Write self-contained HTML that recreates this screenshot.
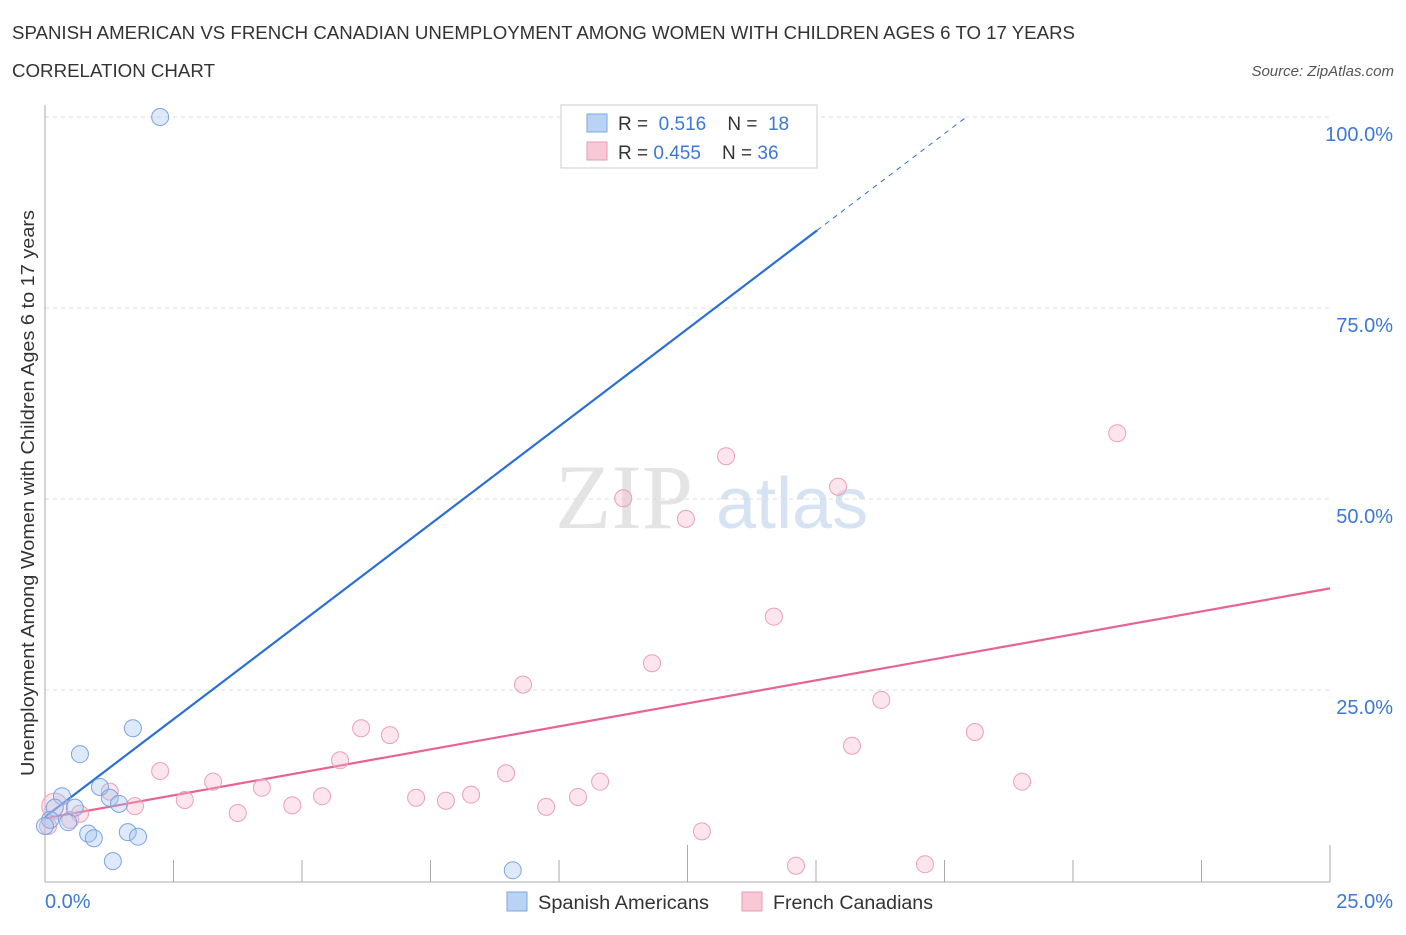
<!DOCTYPE html>
<html><head><meta charset="utf-8"><style>
body{margin:0;background:#fff;font-family:"Liberation Sans",sans-serif;}
</style></head><body>
<svg id="chart" width="1406" height="930" xmlns="http://www.w3.org/2000/svg" font-family="Liberation Sans, sans-serif">
<text x="12" y="39" font-size="18" fill="#333" textLength="1063" lengthAdjust="spacingAndGlyphs">SPANISH AMERICAN VS FRENCH CANADIAN UNEMPLOYMENT AMONG WOMEN WITH CHILDREN AGES 6 TO 17 YEARS</text>
<text x="12" y="77" font-size="18" fill="#333" textLength="203" lengthAdjust="spacingAndGlyphs">CORRELATION CHART</text>
<text x="1394" y="76" font-size="15" fill="#555" font-style="italic" text-anchor="end">Source: ZipAtlas.com</text>
<text x="555" y="528" font-size="92" fill="#e4e4e4" font-family="Liberation Serif, serif">ZIP</text>
<text x="716" y="528" font-size="72" fill="#d6e3f3">atlas</text>
<text transform="translate(34,493) rotate(-90)" font-size="18" fill="#333" text-anchor="middle" textLength="566" lengthAdjust="spacingAndGlyphs">Unemployment Among Women with Children Ages 6 to 17 years</text>
<g id="grid"></g><g id="axes"></g><g id="lines"></g><g id="pts"></g>
<g>
<rect x="561" y="105" width="256" height="63" fill="#fff" stroke="#ccc"/>
<rect x="587" y="114" width="20" height="18" fill="#b9d3f5" stroke="#7ea7e0"/>
<text x="618" y="130" font-size="19" fill="#333">R = <tspan fill="#3b78d8">&#160;0.516</tspan>&#160;&#160;&#160; N = <tspan fill="#3b78d8">&#160;18</tspan></text>
<rect x="587" y="142" width="20" height="18" fill="#f8c8d6" stroke="#eb9ab3"/>
<text x="618" y="159" font-size="19" fill="#333">R = <tspan fill="#3b78d8">0.455</tspan>&#160;&#160;&#160; N = <tspan fill="#3b78d8">36</tspan></text>
</g>
<g>
<rect x="507" y="892" width="20" height="19" fill="#b9d3f5" stroke="#7ea7e0"/>
<text x="538" y="909" font-size="19" fill="#333" textLength="171" lengthAdjust="spacingAndGlyphs">Spanish Americans</text>
<rect x="742" y="892" width="20" height="19" fill="#f8c8d6" stroke="#eb9ab3"/>
<text x="773" y="909" font-size="19" fill="#333" textLength="160" lengthAdjust="spacingAndGlyphs">French Canadians</text>
</g>
</svg>
<script>
const blueX=[2.24,1.71,0.68,0.33,1.07,1.26,1.44,0.19,0.10,0.45,0.84,0.95,1.61,1.81,1.32,9.10,0.0,0.58];
const blueY=[100,20.0,16.6,11.1,12.3,10.9,10.1,9.6,8.0,7.7,6.2,5.6,6.4,5.8,2.6,1.4,7.2,9.6];
const pinkX=[0.19,0.06,0.49,0.68,1.26,1.75,2.24,2.72,3.27,3.75,4.22,4.81,5.39,5.74,6.15,6.71,7.22,7.80,8.29,8.97,9.30,9.75,10.37,10.80,11.25,11.81,12.47,12.78,13.25,14.18,14.61,15.43,15.70,16.27,17.12,18.09,19.01,20.86];
const pinkY=[9.8,7.2,8.0,8.8,11.7,9.8,14.4,10.6,13.0,8.9,12.2,9.9,11.1,15.8,20.0,19.1,10.9,10.5,11.3,14.1,25.7,9.7,11.0,13.0,50.1,28.5,47.4,6.5,55.6,34.6,2.0,51.6,17.7,23.7,2.2,19.5,13.0,58.6];
const blueLine=[8.4,5.11];
const pinkLine=[8.2,1.204];
const yTicks=[25,50,75,100];
const xTicks=[0,2.5,5,7.5,10,12.5,15,17.5,20,22.5,25];
const NS="http://www.w3.org/2000/svg";
const sx=v=>45+v/25*1285, sy=v=>881-v/100*764;
function mk(t,a,p){const e=document.createElementNS(NS,t);for(const k in a)e.setAttribute(k,a[k]);document.getElementById(p).appendChild(e);return e;}
yTicks.forEach(v=>{
 const g=mk('line',{x1:45,x2:1330,y1:sy(v),y2:sy(v),stroke:'#ddd','stroke-dasharray':'4,4'},'grid');
 
 
 const t=mk('text',{x:1393,y:sy(v)+24,'font-size':20,fill:'#3b78d8','text-anchor':'end'},'axes');t.textContent=v.toFixed(1)+'%';
 
 
});
const ax=mk('line',{x1:45,x2:1330,y1:882,y2:882,stroke:'#aaa'},'axes');


const ay=mk('line',{x1:45,x2:45,y1:105,y2:882,stroke:'#aaa'},'axes');


xTicks.forEach((v,i)=>{ if(i===0)return;
 const tk=mk('line',{x1:sx(v),x2:sx(v),y1:(i===5||i===10)?845:860,y2:882,stroke:'#aaa'},'axes');
 
 
});
const l0=mk('text',{x:45,y:908,'font-size':20,fill:'#3b78d8'},'axes');l0.textContent='0.0%';


const l1=mk('text',{x:1393,y:908,'font-size':20,fill:'#3b78d8','text-anchor':'end'},'axes');l1.textContent='25.0%';


const bEnd=15.02, bTop=(100-blueLine[0])/blueLine[1];
const bl=mk('line',{x1:sx(0),y1:sy(blueLine[0]),x2:sx(bEnd),y2:sy(blueLine[0]+blueLine[1]*bEnd),stroke:'#2a6fd6','stroke-width':2.2},'lines');


const bd=mk('line',{x1:sx(bEnd),y1:sy(blueLine[0]+blueLine[1]*bEnd),x2:sx(bTop),y2:sy(100),stroke:'#2a6fd6','stroke-width':1,'stroke-dasharray':'5,5'},'lines');


const pl=mk('line',{x1:sx(0),y1:sy(pinkLine[0]),x2:sx(25),y2:sy(pinkLine[0]+pinkLine[1]*25),stroke:'#e8648f','stroke-width':2.2},'lines');


pinkX.forEach((x,i)=>{const c=mk('circle',{cx:sx(x),cy:sy(pinkY[i]),r:i===0?13:8.5,fill:'rgba(246,180,200,0.35)',stroke:'#eba0b8','stroke-width':1},'pts');
 
 });
blueX.forEach((x,i)=>{const c=mk('circle',{cx:sx(x),cy:sy(blueY[i]),r:8.5,fill:'rgba(160,196,240,0.35)',stroke:'#7aa5e2','stroke-width':1},'pts');
 
 });
</script>
</body></html>
